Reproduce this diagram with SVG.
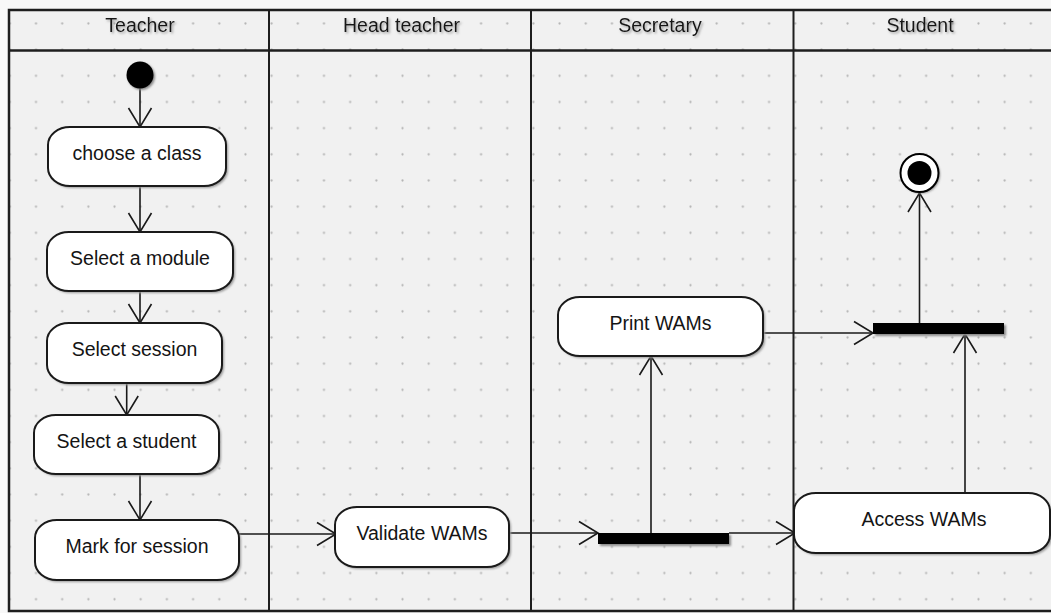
<svg xmlns="http://www.w3.org/2000/svg" width="1051" height="613" viewBox="0 0 1051 613">
  <style>
    .lane { stroke: #1e1e1e; stroke-width: 2; fill: none; }
    .frame { stroke: #1e1e1e; stroke-width: 2.5; fill: none; }
    .head { font-family: "Liberation Sans", Arial, sans-serif; font-size: 19.5px; fill: #141414; text-anchor: middle; }
    .act rect.box { fill: #ffffff; stroke: #1a1a1a; stroke-width: 2; }
    .act rect.shade { fill: #9a9a9a; }
    .act text { font-family: "Liberation Sans", Arial, sans-serif; font-size: 19.5px; fill: #141414; text-anchor: middle; }
    .flow { stroke: #1a1a1a; stroke-width: 1.6; fill: none; marker-end: url(#open); }
    .bar { fill: #000000; }
  </style>
  <defs>
    <pattern id="grid" patternUnits="userSpaceOnUse" x="22.91" y="10.41" width="26.18" height="26.17">
      <circle cx="13.09" cy="13.09" r="1.1" fill="#b4b4b4"/>
    </pattern>
    <filter id="soft" x="-20%" y="-20%" width="140%" height="160%">
      <feGaussianBlur stdDeviation="1.2"/>
    </filter>
    <filter id="txtShadow" x="-10%" y="-30%" width="120%" height="160%">
      <feDropShadow dx="1.5" dy="1.5" stdDeviation="1" flood-color="#7a7a7a" flood-opacity="0.7"/>
    </filter>
    <marker id="open" markerUnits="userSpaceOnUse" viewBox="-25 -15 30 30" markerWidth="30" markerHeight="30" refX="0" refY="0" orient="auto" overflow="visible">
      <path d="M -19 -11.5 L 0 0 L -19 11.5" fill="none" stroke="#1a1a1a" stroke-width="1.6"/>
    </marker>
  </defs>

  <!-- canvas and swimlane frame -->
  <rect x="0" y="0" width="1051" height="613" fill="#f8f8f8"/>
  <rect x="9" y="10" width="1042" height="601" fill="#f1f1f1"/>
  <rect x="9" y="10" width="1042" height="601" fill="url(#grid)"/>

  <g id="lanes">
    <path class="frame" d="M 1051 10 H 9 V 611 H 1051"/>
    <line class="frame" x1="9" y1="50.5" x2="1051" y2="50.5"/>
    <line class="lane" x1="269" y1="10" x2="269" y2="611"/>
    <line class="lane" x1="531" y1="10" x2="531" y2="611"/>
    <line class="lane" x1="793.5" y1="10" x2="793.5" y2="611"/>
    <g filter="url(#txtShadow)">
      <text class="head" x="140" y="32">Teacher</text>
      <text class="head" x="401.5" y="32">Head teacher</text>
      <text class="head" x="660" y="32">Secretary</text>
      <text class="head" x="920" y="32">Student</text>
    </g>
  </g>

  <!-- transitions -->
  <g id="connectors">
    <line class="flow" x1="140" y1="88" x2="140" y2="127"/>
    <line class="flow" x1="140" y1="186" x2="140" y2="232"/>
    <line class="flow" x1="140" y1="291" x2="140" y2="323"/>
    <line class="flow" x1="126.7" y1="383" x2="126.7" y2="415"/>
    <line class="flow" x1="140" y1="474" x2="140" y2="520"/>
    <line class="flow" x1="239" y1="534" x2="336" y2="534"/>
    <line class="flow" x1="509" y1="533" x2="598" y2="533"/>
    <line class="flow" x1="729" y1="533" x2="795" y2="533"/>
    <line class="flow" x1="651" y1="533" x2="651" y2="356"/>
    <line class="flow" x1="763" y1="333" x2="873" y2="333"/>
    <line class="flow" x1="919.5" y1="323" x2="919.5" y2="193"/>
    <line class="flow" x1="965" y1="493" x2="965" y2="334"/>
  </g>

  <!-- initial node -->
  <g id="start">
    <circle cx="141.5" cy="76.5" r="13.5" fill="#8a8a8a" filter="url(#soft)"/>
    <circle cx="140" cy="75" r="13.5" fill="#000000"/>
  </g>

  <g id="choose-class" class="act">
    <rect class="shade" x="50" y="129" width="178" height="59" rx="22" ry="18" filter="url(#soft)"/>
    <rect class="box" x="48" y="127" width="178" height="59" rx="22" ry="18"/>
    <text x="137" y="160">choose a class</text>
  </g>

  <g id="select-module" class="act">
    <rect class="shade" x="49" y="234" width="186" height="59" rx="22" ry="18" filter="url(#soft)"/>
    <rect class="box" x="47" y="232" width="186" height="59" rx="22" ry="18"/>
    <text x="140" y="264.5">Select a module</text>
  </g>

  <g id="select-session" class="act">
    <rect class="shade" x="49" y="325" width="175" height="60" rx="22" ry="18" filter="url(#soft)"/>
    <rect class="box" x="47" y="323" width="175" height="60" rx="22" ry="18"/>
    <text x="134.5" y="356">Select session</text>
  </g>

  <g id="select-student" class="act">
    <rect class="shade" x="36" y="417" width="185" height="59" rx="22" ry="18" filter="url(#soft)"/>
    <rect class="box" x="34" y="415" width="185" height="59" rx="22" ry="18"/>
    <text x="126.5" y="448">Select a student</text>
  </g>

  <g id="mark-session" class="act">
    <rect class="shade" x="37" y="522" width="204" height="60" rx="22" ry="18" filter="url(#soft)"/>
    <rect class="box" x="35" y="520" width="204" height="60" rx="22" ry="18"/>
    <text x="137" y="552.5">Mark for session</text>
  </g>

  <g id="validate-wams" class="act">
    <rect class="shade" x="337" y="509" width="174" height="60" rx="22" ry="18" filter="url(#soft)"/>
    <rect class="box" x="335" y="507" width="174" height="60" rx="22" ry="18"/>
    <text x="422" y="540">Validate WAMs</text>
  </g>

  <g id="print-wams" class="act">
    <rect class="shade" x="560" y="299" width="205" height="59" rx="22" ry="18" filter="url(#soft)"/>
    <rect class="box" x="558" y="297" width="205" height="59" rx="22" ry="18"/>
    <text x="660.5" y="330">Print WAMs</text>
  </g>

  <g id="access-wams" class="act">
    <rect class="shade" x="796" y="495" width="256" height="60" rx="22" ry="18" filter="url(#soft)"/>
    <rect class="box" x="794" y="493" width="256" height="60" rx="22" ry="18"/>
    <text x="924" y="525.5">Access WAMs</text>
  </g>

  <!-- fork / join bars -->
  <g id="fork">
    <rect x="600" y="535" width="131" height="11" fill="#8a8a8a" filter="url(#soft)"/>
    <rect class="bar" x="598" y="533" width="131" height="11"/>
  </g>

  <g id="join">
    <rect x="875" y="325" width="131" height="11" fill="#8a8a8a" filter="url(#soft)"/>
    <rect class="bar" x="873" y="323" width="131" height="11"/>
  </g>

  <!-- final node -->
  <g id="end">
    <circle cx="921" cy="174.5" r="19" fill="#8a8a8a" filter="url(#soft)"/>
    <circle cx="919.5" cy="173" r="19" fill="#ffffff" stroke="#000000" stroke-width="2"/>
    <circle cx="919.5" cy="173" r="12" fill="#000000"/>
  </g>
</svg>
